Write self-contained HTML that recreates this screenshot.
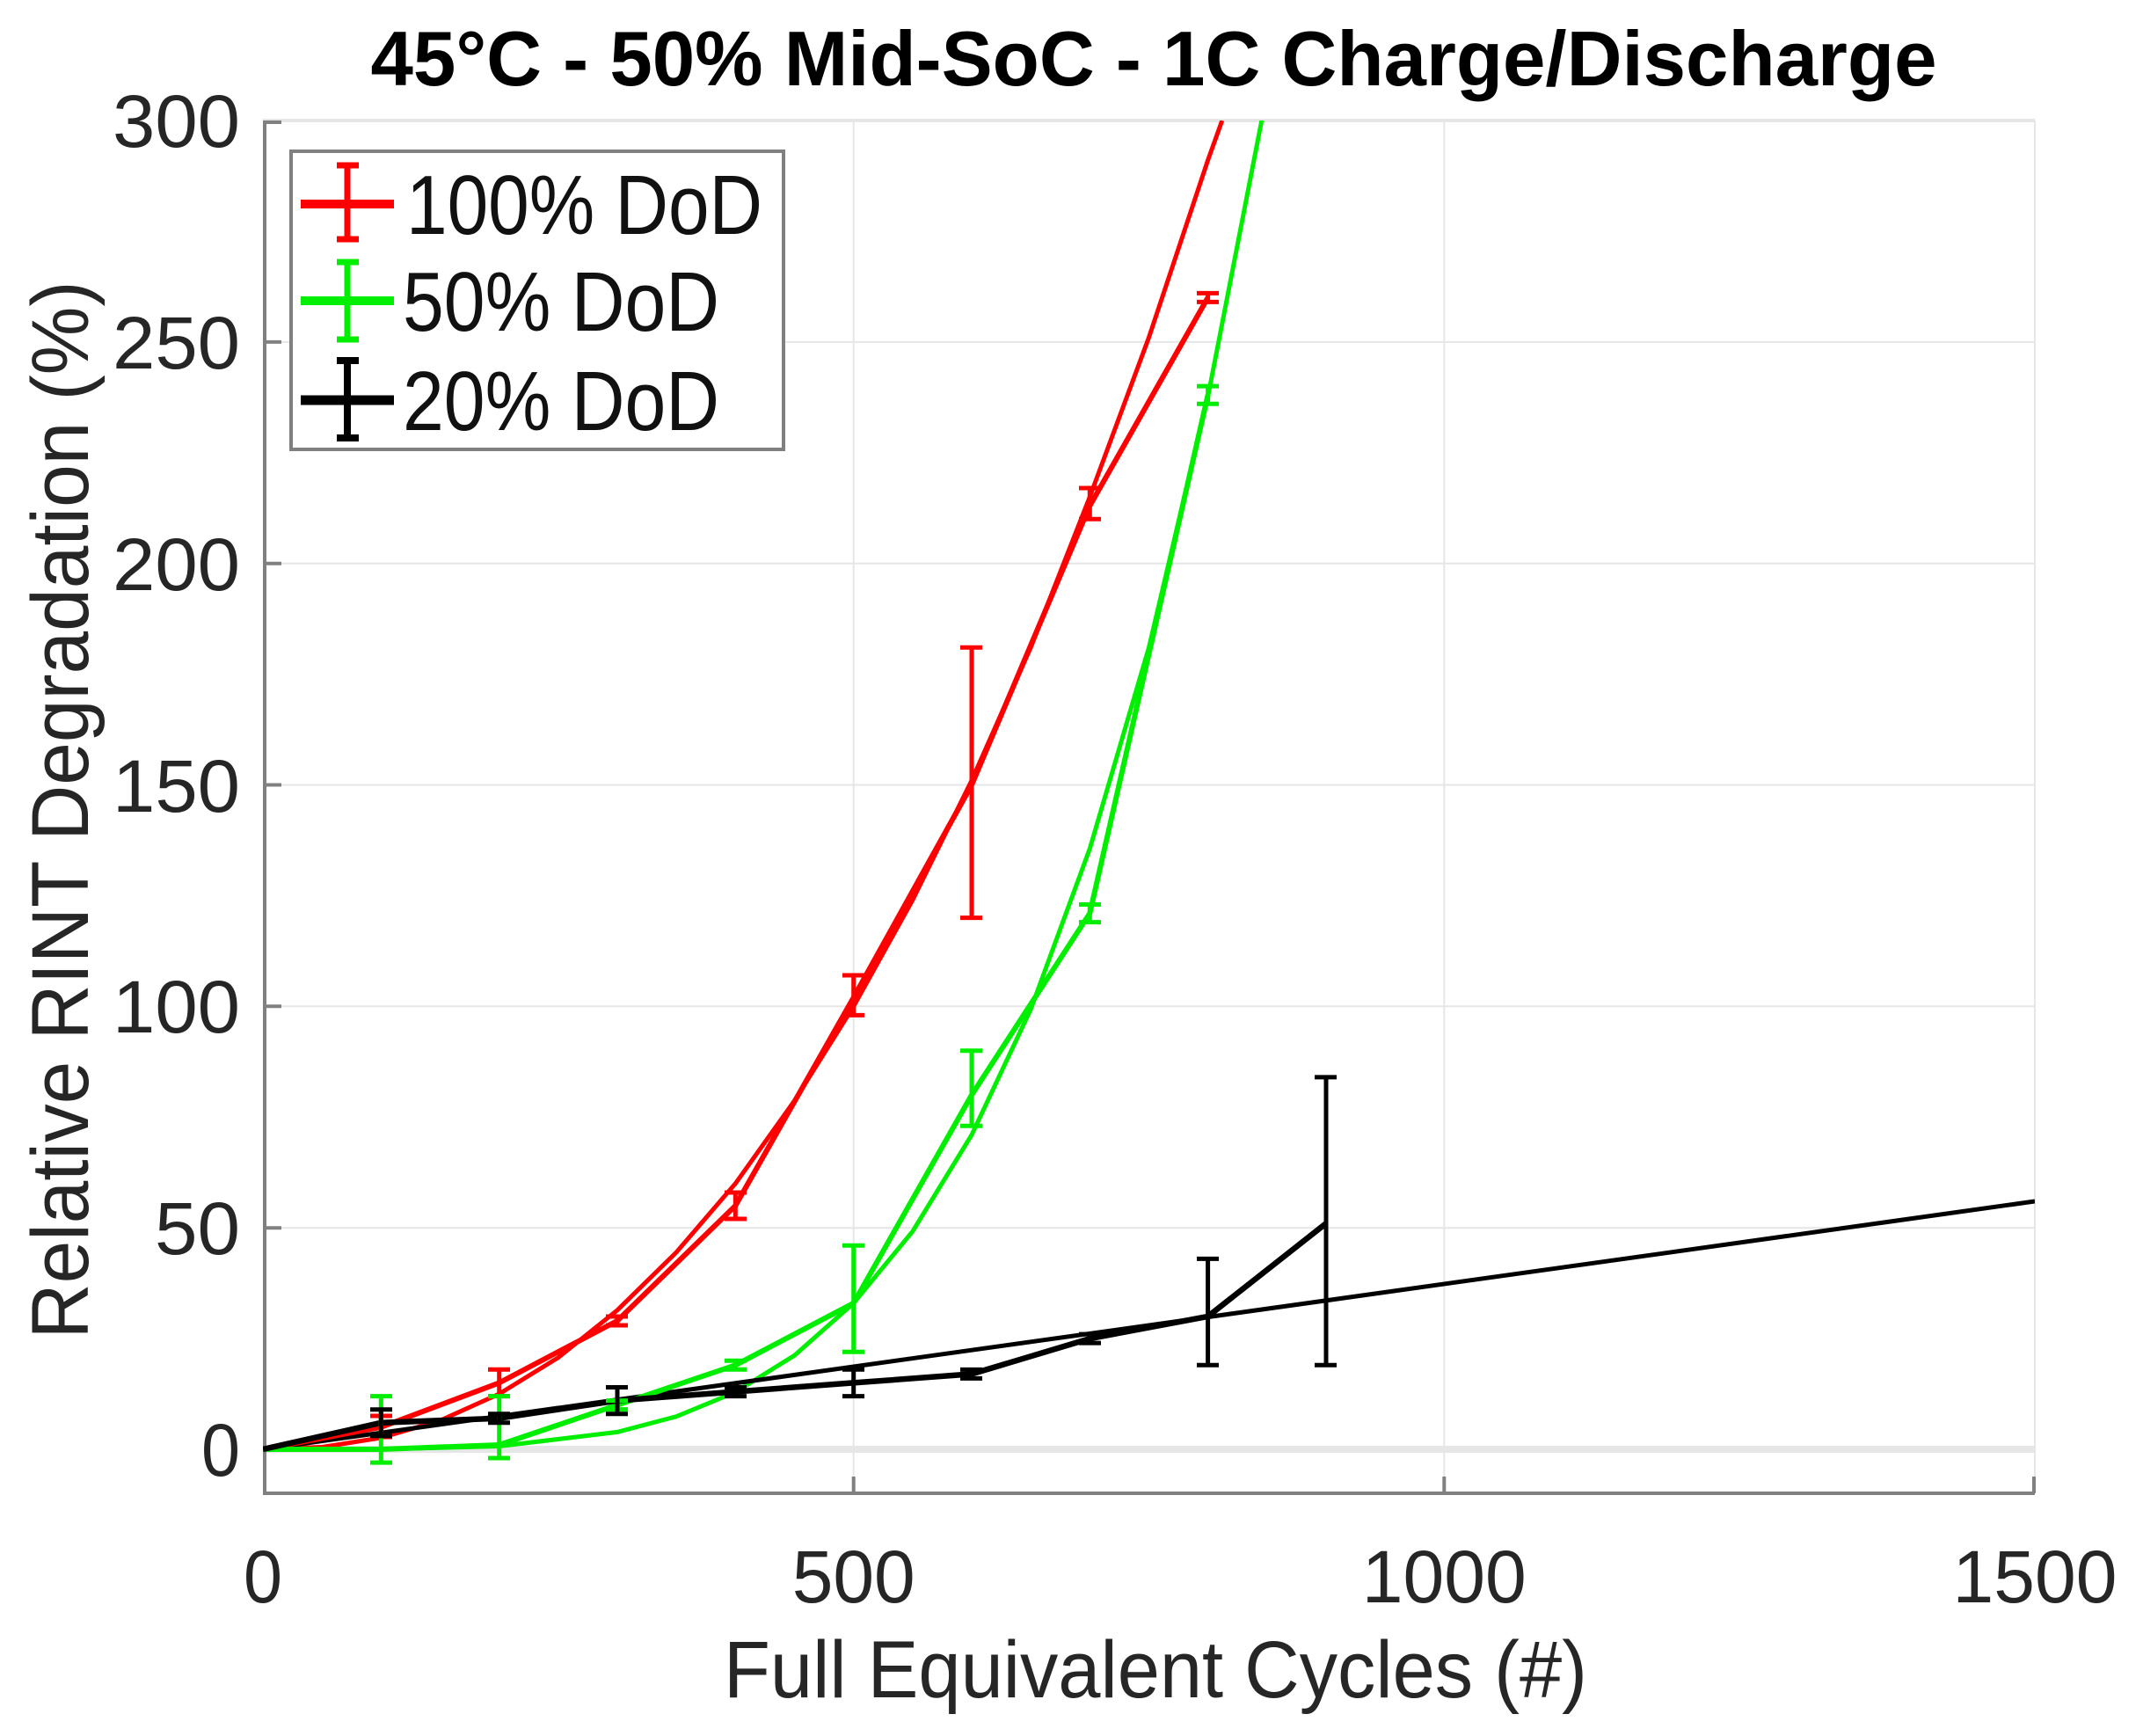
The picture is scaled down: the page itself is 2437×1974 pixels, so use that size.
<!DOCTYPE html>
<html><head><meta charset="utf-8"><style>html,body{margin:0;padding:0;background:#fff}svg{display:block}</style></head>
<body>
<svg width="2437" height="1974" viewBox="0 0 2437 1974" xmlns="http://www.w3.org/2000/svg" font-family="Liberation Sans, Arial, sans-serif">
<defs><clipPath id="c"><rect x="299" y="137" width="2015" height="1561"/></clipPath></defs>
<rect width="2437" height="1974" fill="#fff"/>
<g stroke="#e6e6e6" stroke-width="2">
<line x1="970.7" y1="137" x2="970.7" y2="1698"/>
<line x1="1642.3" y1="137" x2="1642.3" y2="1698"/>
<line x1="2314" y1="137" x2="2314" y2="1698"/>
<line x1="299" y1="1396.2" x2="2314" y2="1396.2"/>
<line x1="299" y1="1144.3" x2="2314" y2="1144.3"/>
<line x1="299" y1="892.5" x2="2314" y2="892.5"/>
<line x1="299" y1="640.7" x2="2314" y2="640.7"/>
<line x1="299" y1="388.9" x2="2314" y2="388.9"/>
<line x1="299" y1="137" x2="2314" y2="137" stroke-width="4"/>
<line x1="299" y1="1648" x2="2314" y2="1648" stroke-width="8"/>
</g>
<g stroke="#808080" stroke-width="4" fill="none">
<polyline points="301,137 301,1698 2314,1698"/>
<line x1="301" y1="139" x2="320" y2="139"/>
<line x1="301" y1="388.9" x2="320" y2="388.9"/>
<line x1="301" y1="640.7" x2="320" y2="640.7"/>
<line x1="301" y1="892.5" x2="320" y2="892.5"/>
<line x1="301" y1="1144.3" x2="320" y2="1144.3"/>
<line x1="301" y1="1396.2" x2="320" y2="1396.2"/>
<line x1="301" y1="1648" x2="320" y2="1648"/>
<line x1="970.7" y1="1698" x2="970.7" y2="1679"/>
<line x1="1642.3" y1="1698" x2="1642.3" y2="1679"/>
<line x1="2313" y1="1698" x2="2313" y2="1679"/>
</g>
<g clip-path="url(#c)" fill="none" stroke-linejoin="round">
<polyline stroke="#ff0000" stroke-width="5" points="299,1648 366.2,1645.5 433.3,1634.9 500.5,1615.3 567.7,1585 634.8,1543.7 702,1489.8 769.2,1423.9 836.3,1345.8 903.5,1251.6 970.7,1144.3 1037.8,1023.4 1105,887.4 1172.1,736.3 1239.3,565 1306.5,383.7 1373.6,182.2 1389.8,137"/>
<polyline stroke="#00ee00" stroke-width="5" points="299,1648 433.3,1647.8 567.7,1644.5 702,1628.4 769.2,1610.7 836.3,1583 903.5,1541.2 970.7,1481.8 1037.8,1400.2 1105,1290.4 1172.1,1147.8 1239.3,965 1306.5,736.3 1373.6,451.2 1440.8,106"/>
<line stroke="#000" stroke-width="5" x1="299" y1="1648" x2="2314" y2="1366"/>
<polyline stroke="#ff0000" stroke-width="6" points="299,1648 433.3,1622.8 567.7,1572.4 702,1501.9 836.3,1371 970.7,1134.2 1105,892.5 1239.3,575.1 1373.6,338.4"/>
<polyline stroke="#00ee00" stroke-width="6" points="299,1648 433.3,1648 567.7,1643 702,1597.6 836.3,1552.3 970.7,1481.8 1105,1245 1239.3,1038.5 1373.6,449.2"/>
<polyline stroke="#000" stroke-width="6.5" points="299,1648 433.3,1617.8 567.7,1612.7 702,1592.6 836.3,1582.5 970.7,1572.4 1105,1562.4 1239.3,1522.1 1373.6,1496.9 1508,1391.1"/>
</g>
<g fill="none" stroke-width="5">
<g stroke="#ff0000">
<path d="M433.3 1634V1610M421 1634h25M421 1610h25"/>
<path d="M567.7 1587.6V1557.3M555 1587.6h25M555 1557.3h25"/>
<path d="M702 1507V1497M689 1507h25M689 1497h25"/>
<path d="M836.3 1386V1356M824 1386h25M824 1356h25"/>
<path d="M970.7 1154.4V1109M958 1154.4h25M958 1109h25"/>
<path d="M1105 1043.6V736.3M1092 1043.6h25M1092 736.3h25"/>
<path d="M1239.3 590.2V555M1227 590.2h25M1227 555h25"/>
<path d="M1373.6 343.4V333.4M1361 343.4h25M1361 333.4h25"/>
</g>
<g stroke="#00ee00">
<path d="M433.3 1663.1V1587.6M421 1663.1h25M421 1587.6h25"/>
<path d="M567.7 1658V1587.6M555 1658h25M555 1587.6h25"/>
<path d="M702 1602.6V1592.6M689 1602.6h25M689 1592.6h25"/>
<path d="M836.3 1557.3V1547.3M824 1557.3h25M824 1547.3h25"/>
<path d="M970.7 1537.2V1416.3M958 1537.2h25M958 1416.3h25"/>
<path d="M1105 1280.3V1194.7M1092 1280.3h25M1092 1194.7h25"/>
<path d="M1239.3 1048.6V1028.5M1227 1048.6h25M1227 1028.5h25"/>
<path d="M1373.6 459.3V439.1M1361 459.3h25M1361 439.1h25"/>
</g>
<g stroke="#000">
<path d="M433.3 1632.9V1602.7M421 1632.9h25M421 1602.7h25"/>
<path d="M567.7 1617.8V1607.7M555 1617.8h25M555 1607.7h25"/>
<path d="M702 1607.7V1577.5M689 1607.7h25M689 1577.5h25"/>
<path d="M836.3 1587.6V1577.5M824 1587.6h25M824 1577.5h25"/>
<path d="M970.7 1587.6V1557.3M958 1587.6h25M958 1557.3h25"/>
<path d="M1105 1567.4V1557.4M1092 1567.4h25M1092 1557.4h25"/>
<path d="M1239.3 1527.1V1517.1M1227 1527.1h25M1227 1517.1h25"/>
<path d="M1373.6 1552.3V1431.4M1361 1552.3h25M1361 1431.4h25"/>
<path d="M1508 1552.3V1224.9M1495 1552.3h25M1495 1224.9h25"/>
</g>
</g>
<rect x="331" y="172" width="560" height="339" fill="#fff" stroke="#808080" stroke-width="4"/>
<g stroke-width="7" fill="none">
<path stroke="#ff0000" stroke-width="10" d="M342 232H448"/>
<path stroke="#ff0000" d="M395 188V272M383 188h25M383 272h25"/>
<path stroke="#00ee00" stroke-width="10" d="M342 342H448"/>
<path stroke="#00ee00" d="M395 298V386M383 298h25M383 386h25"/>
<path stroke="#000" stroke-width="11" d="M342 455H448"/>
<path stroke="#000" stroke-width="8" d="M395 410V498M383 410h25M383 498h25"/>
</g>
<g font-size="96" fill="#111">
<text x="462" y="266" textLength="405" lengthAdjust="spacingAndGlyphs">100% DoD</text>
<text x="458" y="376" textLength="360" lengthAdjust="spacingAndGlyphs">50% DoD</text>
<text x="458" y="489" textLength="360" lengthAdjust="spacingAndGlyphs">20% DoD</text>
</g>
<g font-size="84" fill="#262626" text-anchor="end">
<text x="273" y="167" textLength="145" lengthAdjust="spacingAndGlyphs">300</text>
<text x="273" y="419" textLength="145" lengthAdjust="spacingAndGlyphs">250</text>
<text x="273" y="671" textLength="145" lengthAdjust="spacingAndGlyphs">200</text>
<text x="273" y="923" textLength="145" lengthAdjust="spacingAndGlyphs">150</text>
<text x="273" y="1174" textLength="145" lengthAdjust="spacingAndGlyphs">100</text>
<text x="273" y="1426" textLength="97" lengthAdjust="spacingAndGlyphs">50</text>
<text x="273" y="1678" textLength="44" lengthAdjust="spacingAndGlyphs">0</text>
</g>
<g font-size="84" fill="#262626" text-anchor="middle">
<text x="299" y="1822" textLength="44" lengthAdjust="spacingAndGlyphs">0</text>
<text x="970.7" y="1822" textLength="140" lengthAdjust="spacingAndGlyphs">500</text>
<text x="1642.3" y="1822" textLength="187" lengthAdjust="spacingAndGlyphs">1000</text>
<text x="2314" y="1822" textLength="187" lengthAdjust="spacingAndGlyphs">1500</text>
</g>
<text x="1314" y="1930" font-size="92" fill="#262626" text-anchor="middle" textLength="982" lengthAdjust="spacingAndGlyphs">Full Equivalent Cycles (#)</text>
<text transform="translate(100,921) rotate(-90)" font-size="92" fill="#262626" text-anchor="middle" textLength="1203" lengthAdjust="spacingAndGlyphs">Relative RINT Degradation (%)</text>
<text x="1312" y="97" font-size="88" font-weight="bold" fill="#000" text-anchor="middle" textLength="1781" lengthAdjust="spacingAndGlyphs">45°C - 50% Mid-SoC - 1C Charge/Discharge</text>
</svg>
</body></html>
